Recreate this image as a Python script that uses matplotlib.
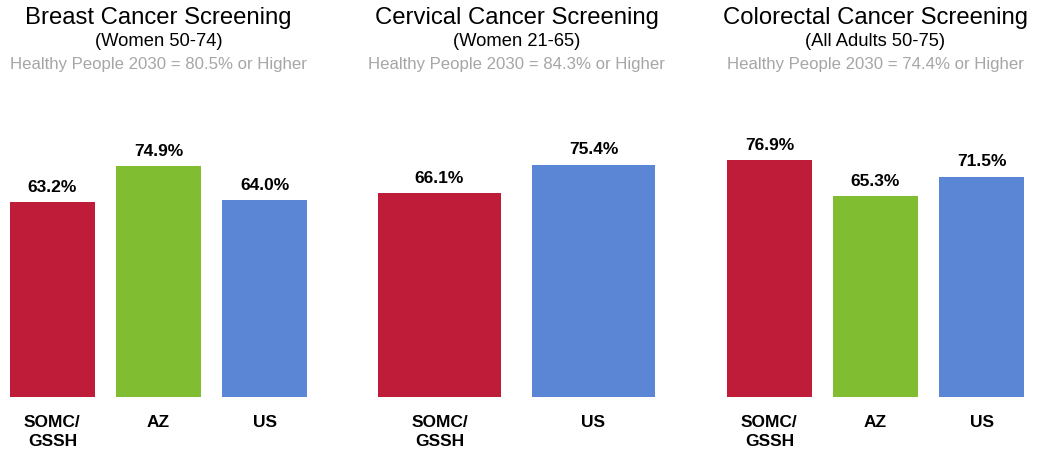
#!/usr/bin/env python3
"""Cancer screening rates by area, three side-by-side bar panels."""

import matplotlib
matplotlib.use("Agg")
import matplotlib.pyplot as plt
from matplotlib import font_manager

RED = "#BE1C39"
GREEN = "#80BD31"
BLUE = "#5B86D5"

breast_labels = ["SOMC/\nGSSH", "AZ", "US"]
breast_values = [63.2, 74.9, 64.0]
breast_colors = [RED, GREEN, BLUE]

cervical_labels = ["SOMC/\nGSSH", "US"]
cervical_values = [66.1, 75.4]
cervical_colors = [RED, BLUE]

colorectal_labels = ["SOMC/\nGSSH", "AZ", "US"]
colorectal_values = [76.9, 65.3, 71.5]
colorectal_colors = [RED, GREEN, BLUE]

titles = ["Breast Cancer Screening", "Cervical Cancer Screening", "Colorectal Cancer Screening"]
subtitles = ["(Women 50-74)", "(Women 21-65)", "(All Adults 50-75)"]
targets = ["Healthy People 2030 = 80.5% or Higher",
           "Healthy People 2030 = 84.3% or Higher",
           "Healthy People 2030 = 74.4% or Higher"]

installed = {f.name for f in font_manager.fontManager.ttflist}
narrow = "Liberation Sans Narrow" if "Liberation Sans Narrow" in installed else "Liberation Sans"
plt.rcParams["font.family"] = ["Liberation Sans", "DejaVu Sans"]

W, H = 1039, 456
fig = plt.figure(figsize=(W / 100, H / 100), dpi=100)

# axes boxes in pixels: left, width
boxes = [(10, 297), (378, 277), (727, 297)]
bottom_px, height_px = 398, 308

panels = [
    (breast_labels, breast_values, breast_colors),
    (cervical_labels, cervical_values, cervical_colors),
    (colorectal_labels, colorectal_values, colorectal_colors),
]

for (left, width), (labels, values, colors), title, sub, target in zip(
        boxes, panels, titles, subtitles, targets):
    ax = fig.add_axes([left / W, (H - bottom_px) / H, width / W, height_px / H])
    xs = list(range(len(values)))
    ax.bar(xs, values, width=0.8, color=colors)
    ax.set_xlim(-0.4, len(values) - 0.6)
    ax.set_ylim(0, 100)
    for x, v in zip(xs, values):
        ax.annotate(f"{v:.1f}%", (x, v), xytext=(0, 6), textcoords="offset points",
                    ha="center", va="bottom", fontsize=12.5, fontweight="bold",
                    family=narrow)
    ax.set_xticks(xs)
    ax.set_xticklabels(labels, fontsize=12.5, fontweight="bold", family=narrow,
                       linespacing=1.4, va="top")
    ax.tick_params(axis="x", length=0, pad=12)
    ax.set_yticks([])
    for spine in ax.spines.values():
        spine.set_visible(False)

    cx = (left + width / 2) / W
    fig.text(cx, 1 - 18 / H, title, ha="center", va="center", fontsize=17.2)
    fig.text(cx, 1 - 42 / H, sub, ha="center", va="center", fontsize=13.2)
    fig.text(cx, 1 - 64 / H, target, ha="center", va="center", fontsize=12.1,
             color="#A6A6A6")

fig.savefig("out.png", dpi=100)
